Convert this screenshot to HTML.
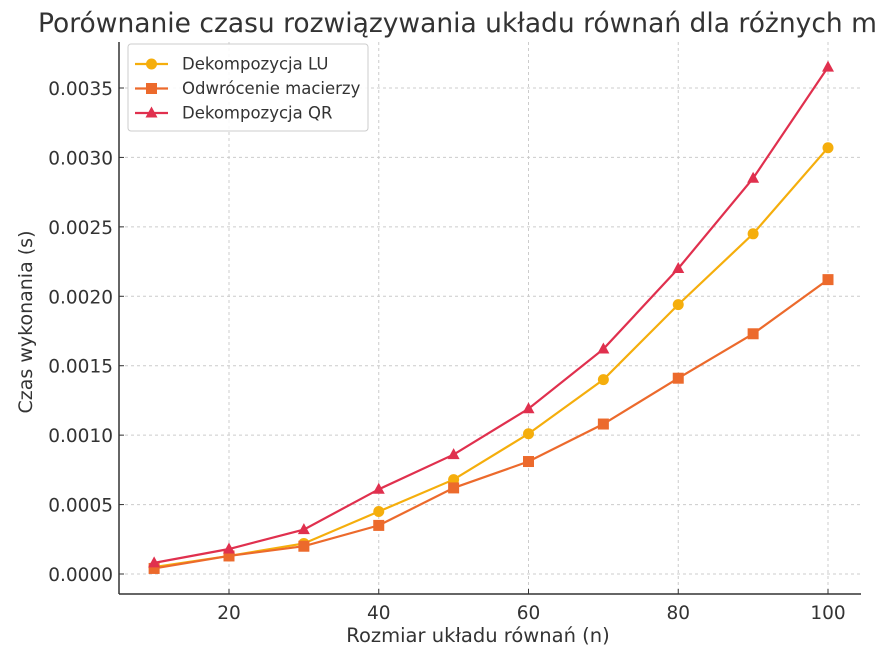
<!DOCTYPE html>
<html><head><meta charset="utf-8"><style>
body{margin:0;background:#fff;}
svg{display:block;font-family:"DejaVu Sans","Liberation Sans",sans-serif;}
</style></head><body>
<svg id="chart" width="878" height="651">
<text x="38" y="32" font-size="26.5" fill="#333">Porównanie czasu rozwiązywania układu równań dla różnych metod</text>
<g id="grid"></g><g id="axes"></g><g id="series"></g>
<text x="478" y="642" font-size="19.5" fill="#333" text-anchor="middle">Rozmiar układu równań (n)</text>
<text transform="translate(32,322) rotate(-90)" font-size="19" fill="#333" text-anchor="middle">Czas wykonania (s)</text>
<g>
<rect x="128" y="44" width="240" height="87" rx="3" fill="#fff" fill-opacity="0.85" stroke="#ccc"/>
<g id="legend-items"></g>
</g>
</svg>
<script>
const categories=[10,20,30,40,50,60,70,80,90,100];
const luValues=[0.00005,0.00013,0.00022,0.00045,0.00068,0.00101,0.00140,0.00194,0.00245,0.00307];
const invValues=[0.00004,0.00013,0.00020,0.00035,0.00062,0.00081,0.00108,0.00141,0.00173,0.00212];
const qrValues=[0.00008,0.00018,0.00032,0.00061,0.00086,0.00119,0.00162,0.00220,0.00285,0.00365];
const xTicks=[20,40,60,80,100];
const yTicks=[0,0.0005,0.001,0.0015,0.002,0.0025,0.003,0.0035];
const yTickLabels=["0.0000","0.0005","0.0010","0.0015","0.0020","0.0025","0.0030","0.0035"];
const seriesNames=["Dekompozycja LU","Odwrócenie macierzy","Dekompozycja QR"];
const NS="http://www.w3.org/2000/svg";
const L=119,R=861,T=42,B=594;
const xs=v=>229+(v-20)*(828-229)/80;
const ys=v=>574-v*(574-88)/0.0035;
function mk(tag,attrs,parent){const e=document.createElementNS(NS,tag);for(const k in attrs)e.setAttribute(k,attrs[k]);parent.appendChild(e);return e;}
const grid=document.getElementById('grid'),axes=document.getElementById('axes'),ser=document.getElementById('series');
xTicks.forEach(t=>{
 const g=mk('line',{x1:xs(t),x2:xs(t),y1:T,y2:B,stroke:'#ccc','stroke-dasharray':'3,3'},grid);
 
 
 mk('line',{x1:xs(t),x2:xs(t),y1:B,y2:B-5,stroke:'#333'},axes);
 const tx=mk('text',{x:xs(t),y:B+25,'font-size':18.5,fill:'#333','text-anchor':'middle'},axes);
 tx.textContent=t;
 
 
});
yTicks.forEach((t,i)=>{
 const g=mk('line',{x1:L,x2:R,y1:ys(t),y2:ys(t),stroke:'#ccc','stroke-dasharray':'3,3'},grid);
 
 
 mk('line',{x1:L,x2:L+5,y1:ys(t),y2:ys(t),stroke:'#333'},axes);
 const tx=mk('text',{x:L-6,y:ys(t)+7,'font-size':18.5,fill:'#333','text-anchor':'end'},axes);
 tx.textContent=yTickLabels[i];
 
 
});
const xa=mk('line',{x1:L,x2:R,y1:B,y2:B,stroke:'#333','stroke-width':1.5},axes);


const ya=mk('line',{x1:L,x2:L,y1:T,y2:B,stroke:'#333','stroke-width':1.5},axes);


function marker(type,x,y,color,parent){
 if(type==='circle')return mk('circle',{cx:x,cy:y,r:5.5,fill:color},parent);
 if(type==='square')return mk('rect',{x:x-5.5,y:y-5.5,width:11,height:11,fill:color},parent);
 return mk('polygon',{points:`${x},${y-6.5} ${x+6},${y+4.5} ${x-6},${y+4.5}`,fill:color},parent);
}
const defs=[[luValues,'#f5ae0c','circle','series-lu'],[invValues,'#ec6a2c','square','series-inversion'],[qrValues,'#e0304e','triangle','series-qr']];
const legendG=document.getElementById('legend-items');
defs.forEach((d,si)=>{
 const g=mk('g',{},ser);
 
 
 mk('polyline',{points:categories.map((c,i)=>xs(c)+','+ys(d[0][i])).join(' '),fill:'none',stroke:d[1],'stroke-width':2.2},g);
 categories.forEach((c,i)=>{const m=marker(d[2],xs(c),ys(d[0][i]),d[1],g);
  
  });
 const ly=64+si*24.5;
 const le=mk('g',{},legendG);
 
 
 mk('line',{x1:135,x2:168,y1:ly,y2:ly,stroke:d[1],'stroke-width':2.2},le);
 marker(d[2],151.5,ly,d[1],le);
 const t=mk('text',{x:182,y:ly+5.5,'font-size':16.5,fill:'#333'},le);
 t.textContent=seriesNames[si];
});
</script>
</body></html>
